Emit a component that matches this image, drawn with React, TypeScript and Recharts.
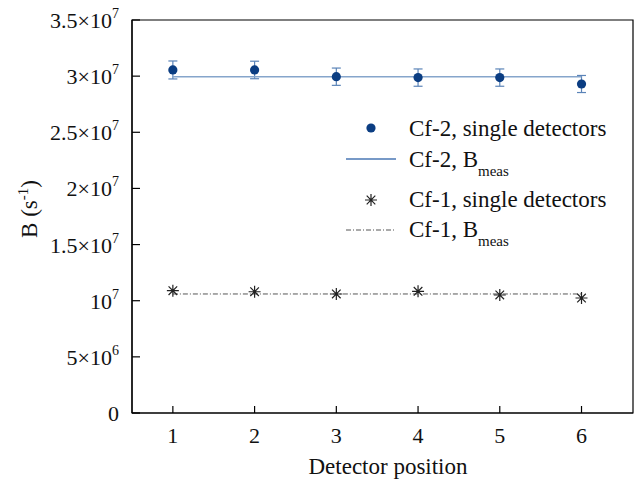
import {
  ComposedChart,
  Scatter,
  XAxis,
  YAxis,
  ErrorBar,
  ReferenceArea,
  Legend,
} from 'recharts';

const FONT = 'Liberation Serif';

const positions = [1, 2, 3, 4, 5, 6];
const cf2Single = [3.055e7, 3.055e7, 2.995e7, 2.987e7, 2.987e7, 2.93e7];
const cf2Err = [0.8e6, 0.78e6, 0.77e6, 0.77e6, 0.77e6, 0.76e6];
const cf2Meas = 2.995e7;
const cf1Single = [1.089e7, 1.08e7, 1.06e7, 1.084e7, 1.051e7, 1.024e7];
const cf1Meas = 1.06e7;

const yTicks = [0, 5e6, 1e7, 1.5e7, 2e7, 2.5e7, 3e7, 3.5e7];
const yTickBase = ['0', '5×10', '10', '1.5×10', '2×10', '2.5×10', '3×10', '3.5×10'];
const yTickExp = ['', '6', '7', '7', '7', '7', '7', '7'];

const cf2Data = positions.map((x, i) => ({ x, y: cf2Single[i], err: cf2Err[i] }));
const cf2LineData = positions.map((x) => ({ x, y: cf2Meas }));
const cf1Data = positions.map((x, i) => ({ x, y: cf1Single[i] }));
const cf1LineData = positions.map((x) => ({ x, y: cf1Meas }));

const DOT = '#0b3d82';
const BLUE_LINE = '#86a5cb';
const STAR = '#222';
const DASH = '#555';

const txtStyle = { fontFamily: FONT };

function Dot(props: any) {
  const { cx, cy } = props;
  if (cx == null || cy == null) return <g />;
  return <circle cx={cx} cy={cy} r={4.6} fill={DOT} />;
}

function Star(props: any) {
  const { cx, cy } = props;
  if (cx == null || cy == null) return <g />;
  return <StarPath cx={cx} cy={cy} />;
}

function StarPath({ cx, cy }: { cx: number; cy: number }) {
  const s = 6;
  const d = 4.3;
  return (
    <path
      d={`M${cx - s},${cy}H${cx + s}M${cx},${cy - s}V${cy + s}M${cx - d},${cy - d}L${cx + d},${cy + d}M${cx - d},${cy + d}L${cx + d},${cy - d}`}
      stroke={STAR}
      strokeWidth={1.2}
      fill="none"
    />
  );
}

const Nothing = () => <g />;

function YTick(props: any) {
  const { x, y, payload } = props;
  const i = yTicks.indexOf(payload.value);
  return (
    <g>
      <line x1={x} x2={x + 8} y1={y} y2={y} stroke="#000" strokeWidth={1.2} />
      <text x={x - 13} y={y + 8} textAnchor="end" style={txtStyle} fontSize={22} fill="#111">
        {yTickBase[i]}
        {yTickExp[i] && (
          <tspan fontSize={14} dy={-10}>
            {yTickExp[i]}
          </tspan>
        )}
      </text>
    </g>
  );
}

function XTick(props: any) {
  const { x, y, payload } = props;
  return (
    <g>
      <line x1={x} x2={x} y1={y} y2={y - 7} stroke="#000" strokeWidth={1.2} />
      <text x={x} y={y + 30} textAnchor="middle" style={txtStyle} fontSize={22} fill="#111">
        {payload.value}
      </text>
    </g>
  );
}

function LegendBox() {
  const txt = { style: txtStyle, fontSize: 23, fill: '#111' };
  return (
    <svg width={300} height={155} style={{ overflow: 'visible' }}>
      <circle cx={41} cy={23} r={4.6} fill={DOT} />
      <text x={79} y={31} {...txt}>Cf-2, single detectors</text>
      <line x1={16} x2={66} y1={54} y2={54} stroke="#4a77b4" strokeWidth={1.3} />
      <text x={79} y={62} {...txt}>
        Cf-2, B<tspan fontSize={15} dy={9}>meas</tspan>
      </text>
      <StarPath cx={41} cy={95} />
      <text x={79} y={102} {...txt}>Cf-1, single detectors</text>
      <line x1={16} x2={66} y1={125} y2={125} stroke={DASH} strokeWidth={1} strokeDasharray="5 2 1 2" />
      <text x={79} y={132} {...txt}>
        Cf-1, B<tspan fontSize={15} dy={9}>meas</tspan>
      </text>
    </svg>
  );
}

export default function App() {
  return (
    <div style={{ position: 'absolute', left: 0, top: 0, width: 635, height: 482, background: '#fff', fontFamily: FONT }}>
      <ComposedChart width={635} height={482} margin={{ top: 20, right: 2, left: 0, bottom: 0 }}>
        <XAxis
          type="number"
          dataKey="x"
          domain={[0.5, 6.63]}
          ticks={positions}
          height={69}
          tickSize={0}
          tickMargin={0}
          tick={<XTick />}
          axisLine={{ stroke: '#000', strokeWidth: 1.2 }}
          allowDataOverflow
          label={{
            content: () => (
              <text x={388} y={474} textAnchor="middle" style={txtStyle} fontSize={23} fill="#111">
                Detector position
              </text>
            ),
          }}
        />
        <YAxis
          type="number"
          dataKey="y"
          domain={[0, 3.5e7]}
          ticks={yTicks}
          width={132}
          tickSize={0}
          tickMargin={0}
          tick={<YTick />}
          axisLine={{ stroke: '#000', strokeWidth: 1.2 }}
          allowDataOverflow
          label={{
            content: () => (
              <text
                x={37}
                y={209}
                textAnchor="middle"
                transform="rotate(-90, 37, 209)"
                style={txtStyle}
                fontSize={23}
                fill="#111"
              >
                B (s<tspan fontSize={15} dy={-9}>-1</tspan>
                <tspan dy={9}>)</tspan>
              </text>
            ),
          }}
        />
        <ReferenceArea x1={0.5} x2={6.63} y1={0} y2={3.5e7} fill="none" stroke="#000" strokeWidth={1.2} />
        <Scatter
          data={cf2LineData}
          line={{ stroke: BLUE_LINE, strokeWidth: 1.6 }}
          shape={<Nothing />}
          isAnimationActive={false}
        />
        <Scatter
          data={cf1LineData}
          line={{ stroke: DASH, strokeWidth: 1, strokeDasharray: '5 2 1 2' }}
          shape={<Nothing />}
          isAnimationActive={false}
        />
        <Scatter data={cf2Data} shape={<Dot />} isAnimationActive={false}>
          <ErrorBar dataKey="err" direction="y" width={4.5} stroke="#5b84b8" strokeWidth={1.2} isAnimationActive={false} />
        </Scatter>
        <Scatter data={cf1Data} shape={<Star />} isAnimationActive={false} />
        <Legend
          layout="vertical"
          align="center"
          verticalAlign="middle"
          wrapperStyle={{ position: 'absolute', left: 330, top: 105, width: 300, height: 155 }}
          content={() => <LegendBox />}
        />
      </ComposedChart>
    </div>
  );
}
